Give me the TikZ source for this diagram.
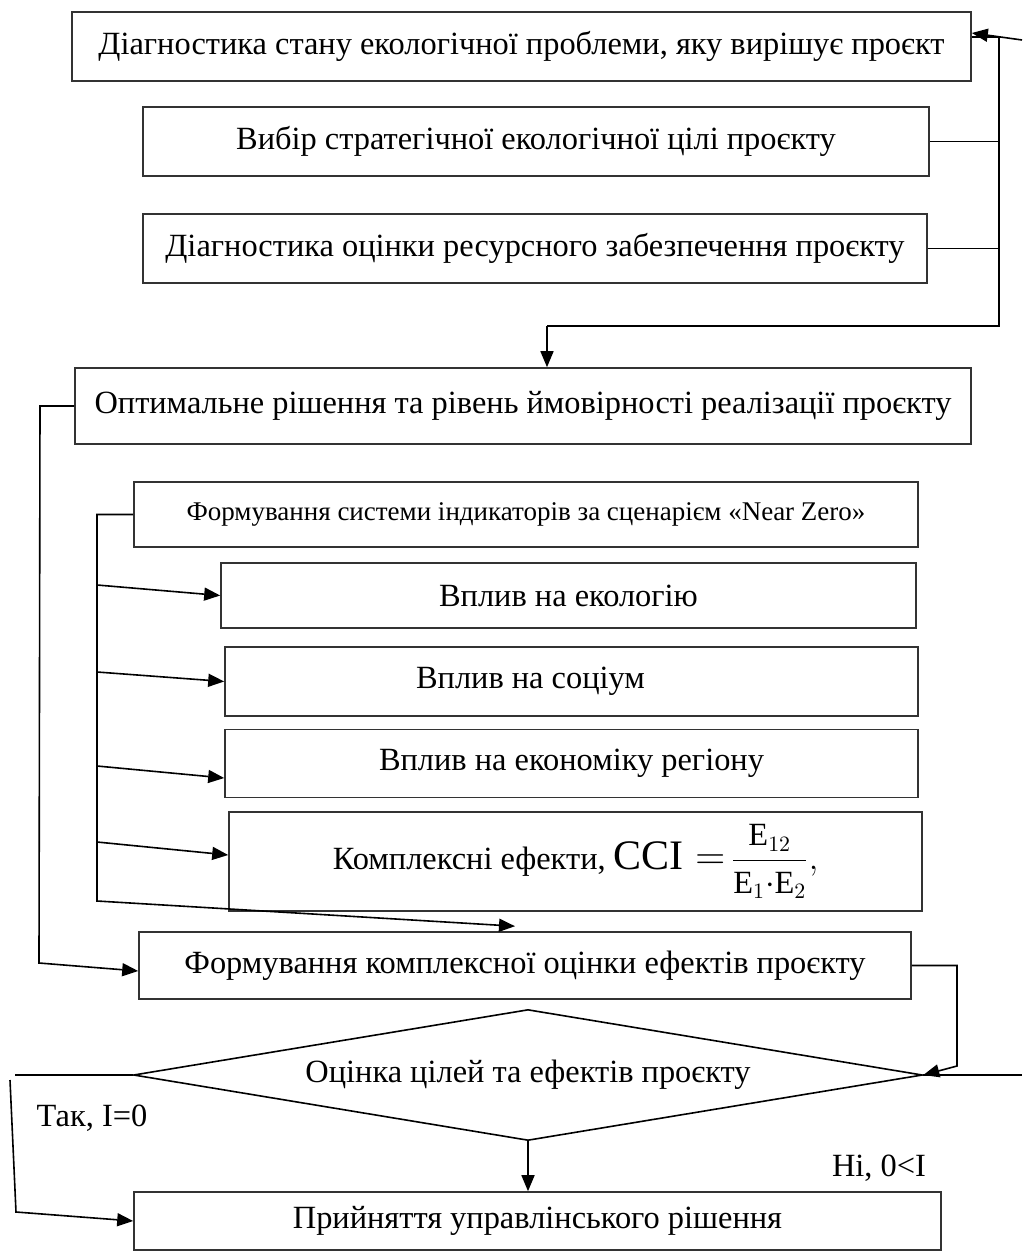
\documentclass[tikz,border=0pt]{standalone}
\usepackage{fontspec}
\setmainfont{Liberation Serif}
\usetikzlibrary{shapes.geometric,arrows.meta}

\begin{document}
\begin{tikzpicture}[x=0.5pt, y=-0.5pt, line width=0.8pt,
    >={Triangle[length=8pt,width=6.5pt]},
    box/.style={rectangle, draw=black!80, inner sep=0pt, font=\fontsize{16.2}{19}\selectfont},
    txt/.style={font=\fontsize{16.2}{19}\selectfont}]
      \useasboundingbox (0, 0) rectangle (1022, 1256);

      \node (A) [box, minimum width=449.5pt, minimum height=34.5pt] at (521.5, 46.5) {
        Діагностика стану екологічної проблеми, яку вирішує проєкт
      };
      \node (B) [box, minimum width=393pt, minimum height=34.5pt] at (536, 141.5) {
        Вибір стратегічної екологічної цілі проєкту
      };
      \node (C) [box, minimum width=392pt, minimum height=34.5pt] at (535, 248.5) {
        Діагностика оцінки ресурсного забезпечення проєкту
      };
      \node (D) [box, minimum width=448pt, minimum height=38pt] at (523, 406) {
        Оптимальне рішення та рівень ймовірності реалізації проєкту
      };
      \node (E) [box, minimum width=392pt, minimum height=32.5pt, font=\fontsize{13.5}{16}\selectfont] at (526, 514.5) {
        Формування системи індикаторів за сценарієм «Near Zero»
      };
      \node (F) [box, minimum width=347.5pt, minimum height=32.5pt] at (568.5, 595.5) {
        Вплив на екологію
      };
      \node (G) [box, minimum width=346.5pt, minimum height=34.5pt] at (571.5, 681.5) {
        \hspace*{-41pt}Вплив на соціум
      };
      \node (H) [box, minimum width=346.5pt, minimum height=34pt] at (571.5, 763.5) {
        Вплив на економіку регіону
      };
      \node (I) [box, minimum width=346.5pt, minimum height=49.5pt] at (575.5, 861.5) {
        Комплексні ефекти, $\mbox{\fontsize{21}{24}\selectfont$\mathrm{CCI}=$}\,\displaystyle\frac{\mathrm{E}_{12}}{\mathrm{E}_{1}{\cdot}\mathrm{E}_{2}},$
      };
      \node (J) [box, minimum width=386pt, minimum height=33.5pt] at (525, 965.5) {
        Формування комплексної оцінки ефектів проєкту
      };
      \node (K) [diamond, draw, aspect=6, inner sep=0pt, minimum width=394.5pt, minimum height=65.5pt, txt] at (528, 1075) {
        Оцінка цілей та ефектів проєкту
      };
      \node (L) [box, minimum width=403.5pt, minimum height=29pt] at (537.5, 1221) {
        Прийняття управлінського рішення
      };
      \node (yes) [txt] at (92, 1118) {Так, I=0};
      \node (no) [txt] at (879, 1168) {Ні, 0<I};

      % return to the first step
      \coordinate (R0) at (1022, 40);
      \coordinate (R1) at (999, 37);
      \coordinate (R2) at (999, 326);
      \coordinate (R3) at (547, 326);
      \draw[->] (R0) -- ([yshift=6.75pt]A.east);
      \draw ([yshift=4.75pt]A.east) -- (R1) -- (R2) -- (R3);
      \draw (B.east) -- (B.east -| R1);
      \draw (C.east) -- (C.east -| R1);
      \draw[->] (R3) -- (R3 |- D.north);

      % outer loop
      \coordinate (L1) at (40, 406);
      \coordinate (L2) at (39, 963);
      \draw[->] (D.west) -- (L1) -- (L2) -- ([yshift=-2.75pt]J.west);

      % indicators
      \coordinate (M2) at (97, 901);
      \draw[->] (E.west) -- (E.west -| M2) -- (M2) -- ([shift={(-5pt,2.5pt)}]J.north);
      \coordinate (S1) at (97, 585);
      \coordinate (S2) at (97, 672);
      \coordinate (S3) at (97, 766);
      \coordinate (S4) at (97, 842);
      \draw[->] (S1) -- (F.west);
      \draw[->] (S2) -- (G.west);
      \draw[->] (S3) -- ([yshift=-7.25pt]H.west);
      \draw[->] (S4) -- ([yshift=3.25pt]I.west);

      % assessment
      \coordinate (N1) at (957, 1066);
      \coordinate (N2) at (1022, 1075);
      \draw[->] (J.east) -- (J.east -| N1) -- (N1) -- (K.east);
      \draw (K.east) -- (N2);
      \coordinate (P1) at (15, 1075);
      \coordinate (P2) at (10, 1080);
      \coordinate (P3) at (16, 1212);
      \draw (K.west) -- (P1);
      \draw[->] (P2) -- (P3) -- (L.west);
      \draw[->] (K.south) -- (K.south |- L.north);
    \end{tikzpicture}
\end{document}
